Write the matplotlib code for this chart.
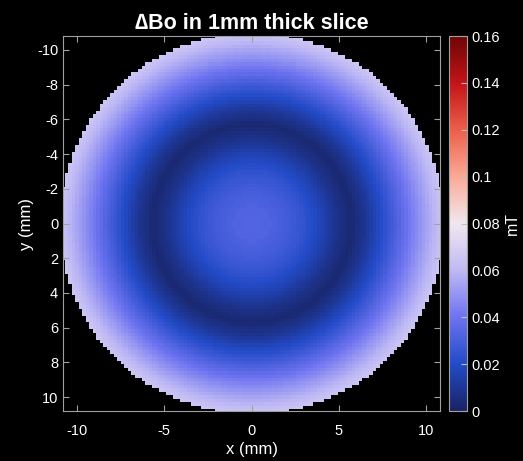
import numpy as np
import matplotlib
matplotlib.use("Agg")
import matplotlib.pyplot as plt
from matplotlib.colors import LinearSegmentedColormap

plt.rcParams['font.family'] = ['Liberation Sans', 'DejaVu Sans']
plt.rcParams['axes.unicode_minus'] = False

# radial profile of dB (r in mm, value in mT)
prof_r = [0.0, 1.0, 2.0, 3.0, 4.0, 5.0, 5.7, 6.5, 7.5, 8.5, 9.5, 10.3, 11.0]
prof_v = [0.033, 0.032, 0.029, 0.024, 0.016, 0.007, 0.003, 0.010, 0.022, 0.035, 0.048, 0.058, 0.066]

# colormap anchors (value, rgb)
cm_vals = [0.0, 0.02, 0.04, 0.06, 0.08, 0.10, 0.12, 0.14, 0.16]
cm_rgb = [(25, 35, 100), (35, 75, 200), (110, 115, 240), (190, 185, 245),
          (240, 232, 238), (250, 170, 150), (235, 95, 75), (195, 20, 25), (110, 5, 5)]

cmap = LinearSegmentedColormap.from_list(
    'bwr_m', [(v / 0.16, tuple(c / 255 for c in rgb)) for v, rgb in zip(cm_vals, cm_rgb)])

x = np.arange(-11, 11.001, 0.2)
y = np.arange(-11, 11.001, 0.2)
X, Y = np.meshgrid(x, y)
R = np.sqrt(X**2 + Y**2)
dB = np.interp(R, prof_r, prof_v)
dB = np.ma.masked_where(R > 11.0, dB)
cmap.set_bad('black')

fig = plt.figure(figsize=(5.23, 4.61), dpi=100, facecolor='black')
ax = fig.add_axes([63/523, 50/461, 377/523, 375/461])
ax.set_facecolor('black')
im = ax.imshow(dB, cmap=cmap, vmin=0, vmax=0.16, origin='upper',
               extent=[x[0]-0.1, x[-1]+0.1, y[-1]+0.1, y[0]-0.1],
               interpolation='nearest', aspect='auto')
ax.set_xlim(-10.8, 10.8)
ax.set_ylim(10.8, -10.8)
ax.set_xticks([-10, -5, 0, 5, 10])
ax.set_yticks(np.arange(-10, 11, 2))
ax.tick_params(direction='in', colors='#a0a0a0', labelcolor='white', labelsize=10.5,
               top=True, right=True, length=4, width=0.8)
ax.tick_params(axis='x', pad=9)
for s in ax.spines.values():
    s.set_color('#a0a0a0')
    s.set_linewidth(0.8)
ax.set_xlabel('x (mm)', color='white', fontsize=12, labelpad=3)
ax.set_ylabel('y (mm)', color='white', fontsize=12, labelpad=2)
ax.set_title('∆Bo in 1mm thick slice', color='white', fontsize=15.5, fontweight='bold', pad=5)

cax = fig.add_axes([449/523, 50/461, 18/523, 375/461])
cb = fig.colorbar(im, cax=cax, ticks=np.arange(0, 0.161, 0.02))
cb.set_ticklabels(['0', '0.02', '0.04', '0.06', '0.08', '0.1', '0.12', '0.14', '0.16'])
cb.ax.tick_params(direction='in', colors='#c0c0c0', labelcolor='white', labelsize=10.5,
                  length=4, width=0.8)
cb.outline.set_edgecolor('#a0a0a0')
cb.outline.set_linewidth(0.8)
cb.set_label('mT', color='white', fontsize=11.5, labelpad=3)

fig.savefig('out.png', dpi=100, facecolor='black')
